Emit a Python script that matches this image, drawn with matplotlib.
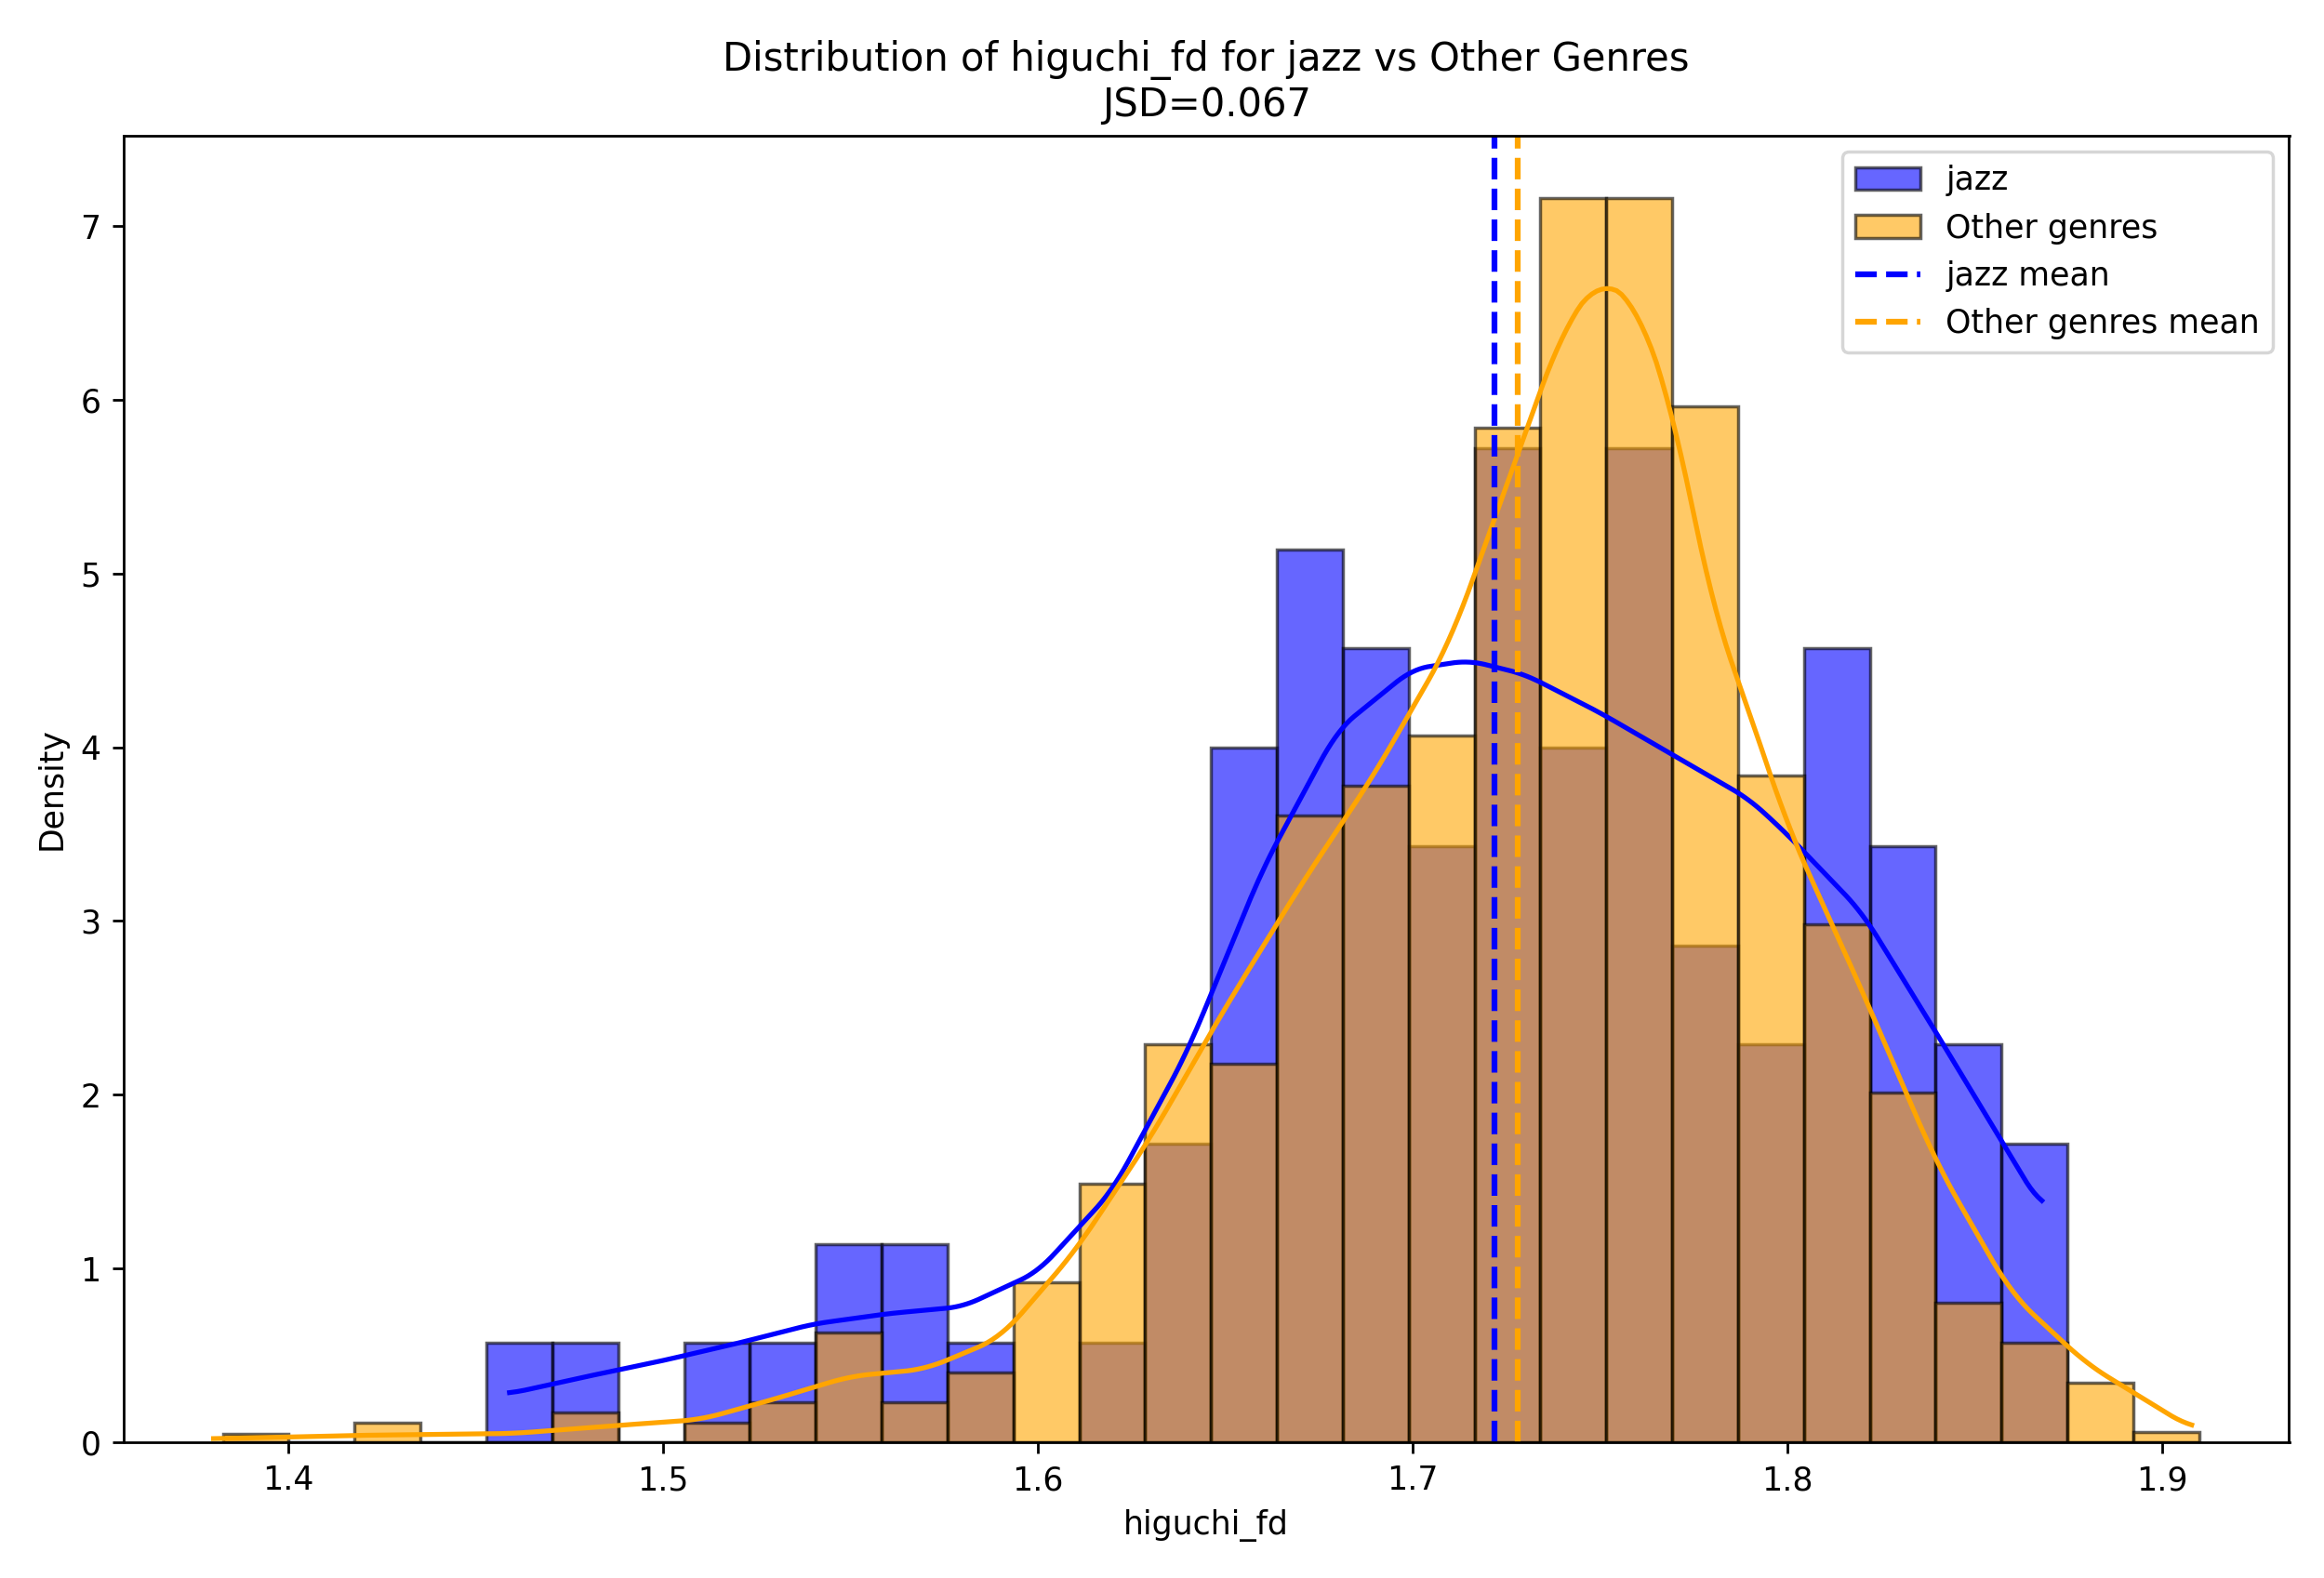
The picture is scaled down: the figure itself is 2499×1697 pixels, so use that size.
import matplotlib

matplotlib.use("Agg")
import matplotlib.pyplot as plt
import numpy as np

bin_start = 1.3825
bin_width = 0.017583
jazz_density = [0, 0, 0, 0, 0.57, 0.57, 0, 0.57, 0.57, 1.14, 1.14, 0.57, 0, 0.57, 1.72,
                4.0, 5.14, 4.57, 3.43, 5.72, 4.0, 5.72, 2.86, 2.29, 4.57, 3.43, 2.29, 1.72, 0, 0]
other_density = [0.05, 0, 0.11, 0, 0, 0.17, 0, 0.11, 0.23, 0.63, 0.23, 0.40, 0.92, 1.49, 2.29,
                 2.18, 3.61, 3.78, 4.07, 5.84, 7.16, 7.16, 5.96, 3.84, 2.98, 2.01, 0.80, 0.57, 0.34, 0.06]

jazz_kde_x = [1.459, 1.48, 1.50, 1.52, 1.54, 1.56, 1.58, 1.60, 1.62, 1.64, 1.66, 1.68, 1.70,
              1.715, 1.73, 1.75, 1.77, 1.79, 1.80, 1.82, 1.84, 1.868]
jazz_kde_y = [0.28, 0.38, 0.47, 0.57, 0.68, 0.74, 0.78, 0.98, 1.45, 2.25, 3.30, 4.10, 4.45,
              4.50, 4.42, 4.20, 3.95, 3.70, 3.50, 3.05, 2.35, 1.35]
other_kde_x = [1.38, 1.42, 1.46, 1.49, 1.51, 1.53, 1.55, 1.57, 1.59, 1.61, 1.63, 1.65, 1.67,
               1.69, 1.71, 1.72, 1.73, 1.74, 1.75, 1.76, 1.77, 1.78, 1.79, 1.80, 1.82, 1.84,
               1.86, 1.88, 1.908]
other_kde_y = [0.02, 0.04, 0.05, 0.10, 0.13, 0.25, 0.38, 0.42, 0.60, 1.10, 1.75, 2.50, 3.20,
               3.85, 4.60, 5.20, 5.80, 6.40, 6.70, 6.55, 5.90, 4.80, 4.20, 3.55, 2.60, 1.60,
               0.85, 0.45, 0.08]
jazz_mean = 1.722
other_mean = 1.728


def smooth(xs, ys):
    # monotone-ish cubic through the read points
    xs, ys = np.asarray(xs), np.asarray(ys)
    t = np.linspace(xs[0], xs[-1], 400)
    from numpy.polynomial import polynomial as P
    out = np.interp(t, xs, ys)
    k = np.ones(9) / 9
    padded = np.pad(out, 4, mode="edge")
    return t, np.convolve(padded, k, mode="valid")


edges = bin_start + bin_width * np.arange(len(jazz_density))

fig, ax = plt.subplots(figsize=(9.996, 6.788))
ax.bar(edges, jazz_density, width=bin_width, align="edge", color="blue", alpha=0.6,
       edgecolor="black", linewidth=1, label="jazz")
ax.bar(edges, other_density, width=bin_width, align="edge", color="orange", alpha=0.6,
       edgecolor="black", linewidth=1, label="Other genres")
ax.plot(*smooth(jazz_kde_x, jazz_kde_y), color="blue", linewidth=1.5)
ax.plot(*smooth(other_kde_x, other_kde_y), color="orange", linewidth=1.5)
ax.axvline(jazz_mean, color="blue", linestyle="--", linewidth=1.8, label="jazz mean")
ax.axvline(other_mean, color="orange", linestyle="--", linewidth=1.8, label="Other genres mean")

ax.set_xlim(1.356, 1.934)
ax.set_ylim(0, 7.52)
ax.set_xlabel("higuchi_fd")
ax.set_ylabel("Density")
ax.set_title("Distribution of higuchi_fd for jazz vs Other Genres\nJSD=0.067")
h, l = ax.get_legend_handles_labels()
ax.legend([h[2], h[3], h[0], h[1]], [l[2], l[3], l[0], l[1]], loc="upper right")
fig.tight_layout()
fig.savefig("out.png", dpi=250)
